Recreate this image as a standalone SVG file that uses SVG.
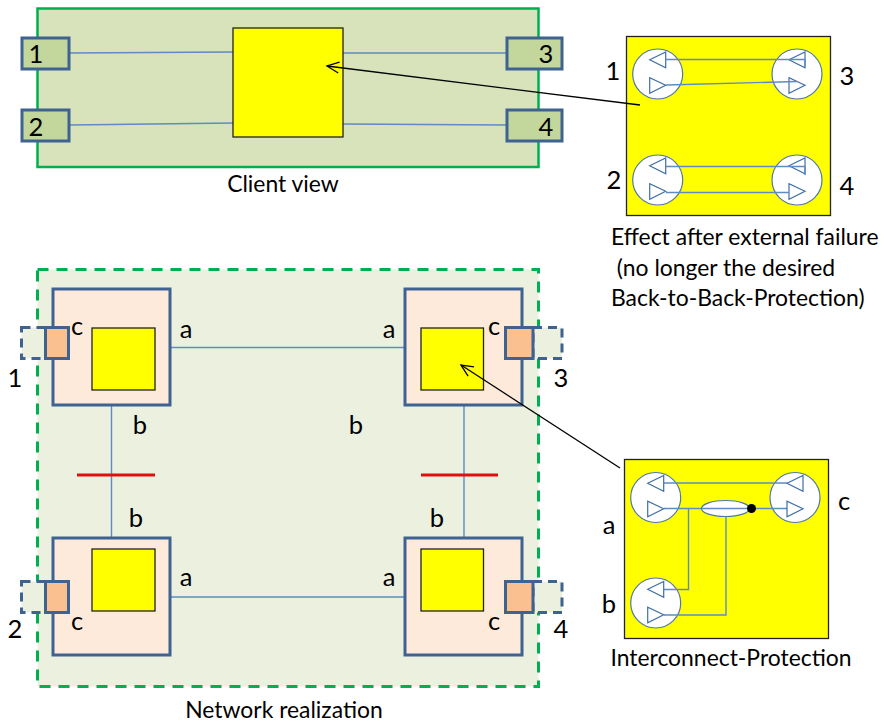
<svg xmlns="http://www.w3.org/2000/svg" width="885" height="726" viewBox="0 0 885 726">
<style>
text{font-family:Lato,"Open Sans","Liberation Sans",sans-serif;font-size:22.900px;fill:#000}
.big{font-size:25.500px}
.ln{fill:none;stroke:#5f8ac2;stroke-width:1.4}
.k{fill:none;stroke:#000;stroke-width:1.3}
.y{fill:#ff0;stroke:#222;stroke-width:1.3}
.pg{fill:#c3d69b;stroke:#3f6391;stroke-width:3}
.po{fill:#fac090;stroke:#3f6391;stroke-width:3}
.n{fill:#fdeada;stroke:#3f6391;stroke-width:3}
.d{fill:#ebf1de;stroke:#3f6391;stroke-width:3;stroke-dasharray:9 6}
.c{fill:#fff;stroke:#4f78a8;stroke-width:1.2}
.t{fill:none;stroke:#3f6fa8;stroke-width:1.2}
.red{stroke:#e01010;stroke-width:3;fill:none}
</style>
<defs>
<marker id="open" markerWidth="16" markerHeight="14" refX="13" refY="7" orient="auto" markerUnits="userSpaceOnUse"><path d="M1 1.500L13 7L1 12.500" fill="none" stroke="#000" stroke-width="1.3"/></marker>
<g id="pair"><path class="t" d="M-8 -14.300L8 -22V-6.300Z"/><path class="t" d="M-8 3.700V19.300L8 11.300Z"/></g>
</defs>

<g id="client-view">
<rect x="37.500" y="8.500" width="501" height="158.500" fill="#d8e3bc" stroke="#00b050" stroke-width="2.500"/>
<text x="283" y="192" text-anchor="middle">Client view</text>
</g>
<g id="network-realization">
<rect x="37.500" y="269.500" width="501" height="417" fill="#ebf0df"/>
<rect x="37.500" y="269.500" width="501" height="417" fill="none" stroke="#00b050" stroke-width="3" stroke-dasharray="11 8"/>
<text x="284" y="718" text-anchor="middle">Network realization</text>
</g>

<g id="connectors">
<path class="ln" d="M69 53L233 52M69 125L235 123M343 53L506 53M343 124L506 125"/>
<path class="ln" d="M170 347.500H405M170 597H405M111.500 405V538M464 405V538"/>
<path class="ln" d="M111.500 405L123 390M464 405L452 390M111.500 538L123 549M464 538L452 549"/>
<path class="ln" d="M69 344L92 358M505 345L483 359M69 596L92 581M505 595L483 581"/>
<path class="red" d="M77 475H155M421 475H498"/>
</g>

<g id="port-1"><rect class="pg" x="22" y="38" width="47" height="31"/><text class="big" x="36" y="63" text-anchor="middle">1</text></g>
<g id="port-2"><rect class="pg" x="22" y="110" width="47" height="31"/><text class="big" x="36" y="136" text-anchor="middle">2</text></g>
<g id="port-3"><rect class="pg" x="507" y="38" width="55" height="31"/><text class="big" x="546" y="63" text-anchor="middle">3</text></g>
<g id="port-4"><rect class="pg" x="507" y="110" width="55" height="31"/><text class="big" x="546" y="136" text-anchor="middle">4</text></g>
<g id="client-core"><rect class="y" x="233" y="28" width="110" height="109"/></g>

<g id="node-1">
<rect class="n" x="53" y="289" width="117" height="116"/>
<rect class="d" x="21.500" y="327.500" width="24" height="31"/>
<rect class="po" x="45.500" y="327.500" width="23" height="31"/>
<rect class="y" x="92" y="328" width="63" height="62"/>
<text class="big" x="77" y="335" text-anchor="middle">c</text><text class="big" x="186" y="338" text-anchor="middle">a</text><text class="big" x="140" y="434" text-anchor="middle">b</text><text class="big" x="15" y="387" text-anchor="middle">1</text>
</g>
<g id="node-3">
<rect class="n" x="405" y="289" width="117" height="116"/>
<rect class="d" x="533" y="327.500" width="29" height="31"/>
<rect class="po" x="505.500" y="327.500" width="27.500" height="31"/>
<rect class="y" x="421" y="328" width="62.500" height="62"/>
<text class="big" x="494" y="335" text-anchor="middle">c</text><text class="big" x="389" y="338" text-anchor="middle">a</text><text class="big" x="356" y="434" text-anchor="middle">b</text><text class="big" x="561" y="387" text-anchor="middle">3</text>
</g>
<g id="node-2">
<rect class="n" x="53" y="538" width="117" height="117"/>
<rect class="d" x="21.500" y="581.500" width="24" height="31"/>
<rect class="po" x="45.500" y="581.500" width="23" height="31"/>
<rect class="y" x="92" y="549" width="63" height="62"/>
<text class="big" x="77" y="630" text-anchor="middle">c</text><text class="big" x="186" y="586" text-anchor="middle">a</text><text class="big" x="136" y="527" text-anchor="middle">b</text><text class="big" x="15" y="638" text-anchor="middle">2</text>
</g>
<g id="node-4">
<rect class="n" x="405" y="538" width="117" height="117"/>
<rect class="d" x="533" y="581.500" width="29" height="31"/>
<rect class="po" x="505.500" y="581.500" width="27.500" height="31"/>
<rect class="y" x="421" y="549" width="62.500" height="62"/>
<text class="big" x="494" y="630" text-anchor="middle">c</text><text class="big" x="389" y="586" text-anchor="middle">a</text><text class="big" x="437" y="527" text-anchor="middle">b</text><text class="big" x="561" y="638" text-anchor="middle">4</text>
</g>

<g id="effect-box">
<rect class="y" x="626.500" y="36.500" width="204" height="179"/>
<circle class="c" cx="657.700" cy="74" r="25"/><circle class="c" cx="797" cy="74" r="25"/>
<circle class="c" cx="657.700" cy="180" r="25"/><circle class="c" cx="797" cy="180" r="25"/>
<use href="#pair" x="657.700" y="74"/><use href="#pair" x="797" y="74"/>
<use href="#pair" x="657.700" y="180"/><use href="#pair" x="797" y="180"/>
<path class="ln" d="M666 59.500H805V67M666 85L797 81.500M666 166.500H805V175M666 192.500H789"/>
<text class="big" x="613" y="80" text-anchor="middle">1</text><text class="big" x="847" y="85" text-anchor="middle">3</text>
<text class="big" x="614" y="189" text-anchor="middle">2</text><text class="big" x="847" y="195" text-anchor="middle">4</text>
<text x="611" y="245">Effect after external failure</text>
<text x="611" y="276" xml:space="preserve"> (no longer the desired</text>
<text x="611" y="306">Back-to-Back-Protection)</text>
</g>

<g id="interconnect-box">
<rect class="y" x="624.500" y="459.500" width="204" height="179"/>
<circle class="c" cx="655.700" cy="497.500" r="25"/><circle class="c" cx="795" cy="497.500" r="25"/><circle class="c" cx="655.700" cy="603" r="25"/>
<path class="ln" d="M664 483H787M664 508.500H702M748 508.500H787M688.500 508.500V589.500H664M664 615H726V516"/>
<use href="#pair" x="655.700" y="497.500"/><use href="#pair" x="795" y="497.500"/><use href="#pair" x="655.700" y="603.500"/>
<ellipse class="c" cx="725.500" cy="508.500" rx="24" ry="8"/>
<path class="ln" d="M702 508.500H748"/>
<circle cx="751.500" cy="508.500" r="4.500" fill="#000"/>
<text class="big" x="609" y="534" text-anchor="middle">a</text><text class="big" x="609" y="613" text-anchor="middle">b</text><text class="big" x="844" y="510" text-anchor="middle">c</text>
<text x="731" y="666" text-anchor="middle">Interconnect-Protection</text>
</g>

<g id="arrows">
<path class="k" d="M640 105L327 66" marker-end="url(#open)"/>
<path class="k" d="M620 468L461 365" marker-end="url(#open)"/>
</g>
</svg>
